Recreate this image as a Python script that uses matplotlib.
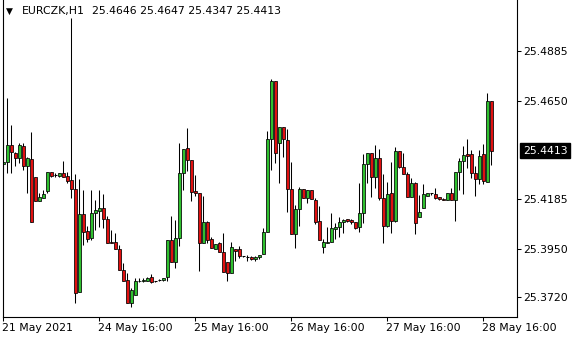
import numpy as np
import matplotlib.pyplot as plt
from matplotlib.patches import Rectangle
import matplotlib.transforms as mtransforms

symbol = "EURCZK,H1"

# hourly OHLC
opens = [25.4350, 25.4361, 25.4440, 25.4404, 25.4377, 25.4435, 25.4342, 25.4373, 25.4287, 25.4177,
         25.4191, 25.4224, 25.4311, 25.4298, 25.4295, 25.4306, 25.4294, 25.4275, 25.4231, 25.3746,
         25.4112, 25.4033, 25.3998, 25.4117, 25.4129, 25.4141, 25.4090, 25.3981, 25.3981, 25.3950,
         25.3849, 25.3802, 25.3694, 25.3731, 25.3798, 25.3797, 25.3798, 25.3817, 25.3795, 25.3802,
         25.3802, 25.3814, 25.3991, 25.3888, 25.3999, 25.4306, 25.4425, 25.4369, 25.4223, 25.4212,
         25.3978, 25.4076, 25.3996, 25.3950, 25.3975, 25.3933, 25.3885, 25.3833, 25.3947, 25.3947,
         25.3914, 25.3912, 25.3912, 25.3900, 25.3912, 25.3925, 25.4030, 25.4470, 25.4741, 25.4448,
         25.4527, 25.4464, 25.4231, 25.4018, 25.4136, 25.4231, 25.4188, 25.4226, 25.4180, 25.4081,
         25.3956, 25.3975, 25.3983, 25.4043, 25.4054, 25.4077, 25.4089, 25.4085, 25.4077, 25.4051,
         25.4120, 25.4349, 25.4401, 25.4287, 25.4377, 25.4188, 25.4058, 25.4212, 25.4082, 25.4412,
         25.4338, 25.4302, 25.4196, 25.4259, 25.4101, 25.4141, 25.4200, 25.4212, 25.4207, 25.4193,
         25.4185, 25.4179, 25.4212, 25.4179, 25.4314, 25.4366, 25.4396, 25.4396, 25.4306, 25.4278,
         25.4396, 25.4267, 25.4646]
highs = [25.4469, 25.4662, 25.4535, 25.4408, 25.4451, 25.4448, 25.4385, 25.4500, 25.4289, 25.4215,
         25.4227, 25.4314, 25.4314, 25.4306, 25.4309, 25.4364, 25.4311, 25.5041, 25.4303, 25.4278,
         25.4227, 25.4057, 25.4227, 25.4180, 25.4227, 25.4208, 25.4104, 25.4038, 25.4022, 25.3967,
         25.3881, 25.3833, 25.3762, 25.3810, 25.3810, 25.3810, 25.3814, 25.3830, 25.3797, 25.3808,
         25.3811, 25.3991, 25.4104, 25.4085, 25.4448, 25.4420, 25.4519, 25.4369, 25.4298, 25.4212,
         25.4199, 25.4081, 25.4005, 25.3972, 25.3983, 25.4022, 25.3885, 25.3980, 25.3948, 25.3962,
         25.3915, 25.3918, 25.3915, 25.3915, 25.3921, 25.4046, 25.4508, 25.4754, 25.4741, 25.4527,
         25.4527, 25.4516, 25.4358, 25.4156, 25.4240, 25.4231, 25.4226, 25.4226, 25.4188, 25.4152,
         25.3996, 25.4054, 25.4117, 25.4073, 25.4098, 25.4092, 25.4092, 25.4089, 25.4077, 25.4259,
         25.4396, 25.4401, 25.4401, 25.4440, 25.4420, 25.4303, 25.4265, 25.4360, 25.4429, 25.4412,
         25.4401, 25.4311, 25.4283, 25.4264, 25.4204, 25.4254, 25.4212, 25.4212, 25.4235, 25.4196,
         25.4191, 25.4212, 25.4235, 25.4314, 25.4377, 25.4435, 25.4469, 25.4417, 25.4341, 25.4417,
         25.4445, 25.4685, 25.4647]
lows = [25.4322, 25.4308, 25.4309, 25.4341, 25.4354, 25.4322, 25.4215, 25.4077, 25.4177, 25.4177,
        25.4191, 25.4215, 25.4290, 25.4290, 25.4290, 25.4290, 25.4259, 25.4188, 25.3691, 25.3746,
        25.3967, 25.3983, 25.3991, 25.4038, 25.4054, 25.4046, 25.3978, 25.3975, 25.3947, 25.3849,
        25.3798, 25.3691, 25.3672, 25.3731, 25.3794, 25.3794, 25.3798, 25.3786, 25.3794, 25.3795,
        25.3798, 25.3798, 25.3888, 25.3860, 25.3962, 25.4227, 25.4319, 25.4177, 25.4199, 25.3846,
        25.3978, 25.3978, 25.3952, 25.3950, 25.3933, 25.3841, 25.3798, 25.3833, 25.3893, 25.3904,
        25.3912, 25.3893, 25.3896, 25.3893, 25.3900, 25.3925, 25.4030, 25.4322, 25.4354, 25.4262,
        25.4382, 25.4125, 25.4018, 25.3952, 25.4058, 25.4188, 25.4167, 25.4183, 25.4065, 25.3991,
        25.3928, 25.3975, 25.3983, 25.3994, 25.4004, 25.4022, 25.4077, 25.4066, 25.4043, 25.4030,
        25.4070, 25.4262, 25.4193, 25.4235, 25.4180, 25.3975, 25.4054, 25.4022, 25.4077, 25.4333,
        25.4302, 25.4196, 25.4196, 25.4018, 25.4101, 25.4141, 25.4200, 25.4204, 25.4183, 25.4180,
        25.4179, 25.4179, 25.4179, 25.4082, 25.4227, 25.4208, 25.4330, 25.4283, 25.4199, 25.4256,
        25.4254, 25.4267, 25.4347]
closes = [25.4362, 25.4440, 25.4408, 25.4380, 25.4440, 25.4341, 25.4380, 25.4077, 25.4177, 25.4193,
          25.4208, 25.4314, 25.4295, 25.4298, 25.4306, 25.4290, 25.4271, 25.4231, 25.3739, 25.4112,
          25.4030, 25.3994, 25.4117, 25.4133, 25.4144, 25.4089, 25.3978, 25.3975, 25.3947, 25.3849,
          25.3798, 25.3691, 25.3754, 25.3795, 25.3795, 25.3802, 25.3811, 25.3792, 25.3795, 25.3802,
          25.3810, 25.3991, 25.3888, 25.3999, 25.4306, 25.4420, 25.4369, 25.4216, 25.4212, 25.3978,
          25.4075, 25.3991, 25.3952, 25.3972, 25.3933, 25.3841, 25.3833, 25.3956, 25.3940, 25.3915,
          25.3914, 25.3912, 25.3900, 25.3912, 25.3918, 25.4030, 25.4467, 25.4741, 25.4401, 25.4527,
          25.4467, 25.4231, 25.4018, 25.4136, 25.4231, 25.4188, 25.4226, 25.4183, 25.4077, 25.3991,
          25.3980, 25.3983, 25.4049, 25.4054, 25.4077, 25.4085, 25.4081, 25.4077, 25.4049, 25.4117,
          25.4349, 25.4401, 25.4287, 25.4377, 25.4188, 25.4058, 25.4207, 25.4082, 25.4412, 25.4338,
          25.4302, 25.4196, 25.4259, 25.4073, 25.4122, 25.4207, 25.4212, 25.4212, 25.4188, 25.4183,
          25.4179, 25.4212, 25.4179, 25.4314, 25.4364, 25.4391, 25.4388, 25.4306, 25.4278, 25.4390,
          25.4270, 25.4648, 25.4413]

date_ticks = [0, 24, 48, 72, 96, 120]
date_labels = ["21 May 2021", "24 May 16:00", "25 May 16:00",
               "26 May 16:00", "27 May 16:00", "28 May 16:00"]
price_ticks = [25.4885, 25.4650, 25.4185, 25.3950, 25.3720]

bull_color = "#2fc02f"
bear_color = "#e01010"

plt.rcParams['font.family'] = 'DejaVu Sans'
plt.rcParams['font.size'] = 7.8

fig = plt.figure(figsize=(5.8, 3.4), dpi=100)
ax = fig.add_axes([2.5 / 580, 23.5 / 340, 514 / 580, 316.5 / 340])

w = 0.72
for i in range(len(opens)):
    o, h, l, c = opens[i], highs[i], lows[i], closes[i]
    ax.vlines(i, l, h, color="black", lw=0.75, zorder=1)
    if o == c:
        ax.hlines(o, i - w / 2, i + w / 2, color="black", lw=0.75, zorder=2)
    else:
        col = bull_color if c > o else bear_color
        ax.add_patch(Rectangle((i - w / 2, min(o, c)), w, abs(c - o),
                               facecolor=col, edgecolor="black", lw=0.55, zorder=2))

ax.set_xlim(-0.2, 128.3)
ax.set_ylim(25.3629, 25.5126)

ax.spines['top'].set_visible(False)
for s in ['left', 'right', 'bottom']:
    ax.spines[s].set_linewidth(0.8)

ax.yaxis.tick_right()
ax.set_yticks(price_ticks)
ax.set_yticklabels([f"{p:.4f}" for p in price_ticks])
ax.tick_params(axis='y', direction='out', length=3, width=0.75, pad=2)

ax.set_xticks(date_ticks)
ax.set_xticklabels(date_labels, ha='left')
ax.tick_params(axis='x', direction='out', length=3, width=0.75, pad=1.5)
offset = mtransforms.ScaledTranslation(-1 / 100, 0, fig.dpi_scale_trans)
for lab in ax.get_xticklabels():
    lab.set_transform(lab.get_transform() + offset)

# current price box
last = closes[-1]
trans = mtransforms.blended_transform_factory(ax.transAxes, ax.transData)
ax.text(1.0125, last, f"{last:.4f}", transform=trans, color="white", va="center", ha="left",
        bbox=dict(boxstyle="square,pad=0.25", fc="black", ec="black"), clip_on=False)

# header line
fig.text(6 / 580, 1 - 11 / 340, "\u25bc", fontsize=6.5, va="center", ha="left")
fig.text(22 / 580, 1 - 11 / 340, symbol, va="center", ha="left")
fig.text(92 / 580, 1 - 11 / 340,
         f"{opens[-1]:.4f} {highs[-1]:.4f} {lows[-1]:.4f} {closes[-1]:.4f}",
         va="center", ha="left")

fig.savefig("out.png", dpi=100)
